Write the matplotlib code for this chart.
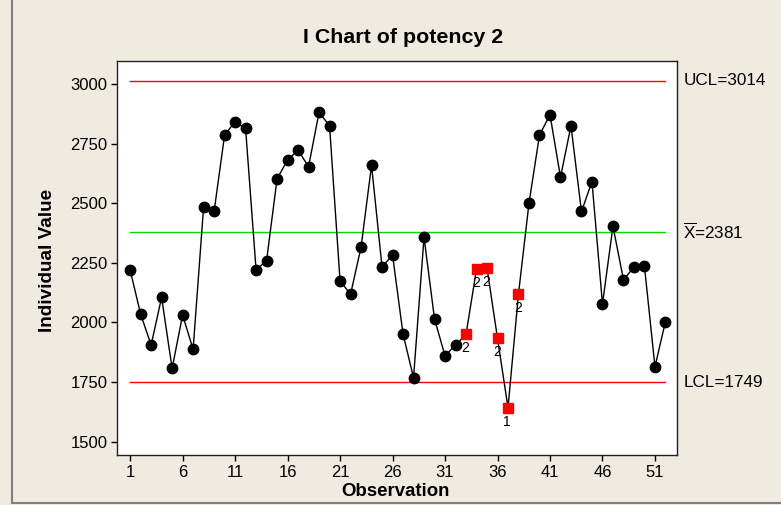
import numpy as np
import matplotlib
matplotlib.use("Agg")
import matplotlib.pyplot as plt
from matplotlib.lines import Line2D

# potency 2 individual observations
potency = [2220, 2035, 1905, 2105, 1807, 2031, 1887, 2483, 2465, 2785,
           2842, 2813, 2220, 2259, 2602, 2681, 2722, 2653, 2881, 2824,
           2174, 2118, 2315, 2659, 2232, 2283, 1951, 1768, 2357, 2014,
           1860, 1905, 1950, 2223, 2228, 1933, 1642, 2120, 2500, 2785,
           2871, 2609, 2824, 2465, 2590, 2077, 2403, 2179, 2231, 2235,
           1814, 2003]
# control limits
ucl = 3014
center = 2381
lcl = 1749
# failed tests: observation -> test number
failed = {33: 2, 34: 2, 35: 2, 36: 2, 37: 1, 38: 2}
xticks = [1, 6, 11, 16, 21, 26, 31, 36, 41, 46, 51]
yticks = [1500, 1750, 2000, 2250, 2500, 2750, 3000]

bg = '#EFEBE1'
font = ['Liberation Sans', 'DejaVu Sans']
W, H = 781, 505

plt.rcParams['mathtext.fontset'] = 'custom'
plt.rcParams['mathtext.rm'] = 'Liberation Sans'

obs = np.arange(1, len(potency) + 1)
vals = np.array(potency)

fig = plt.figure(figsize=(W / 100, H / 100), dpi=100, facecolor=bg)
ax = fig.add_axes([117 / W, 1 - 455 / H, 560 / W, 394 / H])
ax.set_facecolor('white')

# limit lines
for lvl, col in [(ucl, '#FF0000'), (center, '#00DD00'), (lcl, '#FF0000')]:
    ax.plot([obs[0], obs[-1]], [lvl, lvl], color=col, lw=1.0, zorder=1)

ax.plot(obs, vals, color='black', lw=1.0, zorder=2)
ok = np.array([o not in failed for o in obs])
ax.plot(obs[ok], vals[ok], 'o', color='black', ms=7.5, zorder=3)
bad = ~ok
ax.plot(obs[bad], vals[bad], 's', color='#FF0000', ms=6.5, mec='#FF0000', zorder=3)
for o, t in failed.items():
    ax.annotate(str(t), (o, potency[o - 1]), xytext=(-0.5, -5), textcoords='offset points',
                ha='center', va='top', fontsize=10, family=font)

ax.set_xlim(-0.25, 53.1)
ax.set_ylim(1444, 3096)
ax.set_xticks(xticks)
ax.set_yticks(yticks)
ax.tick_params(direction='out', length=4, width=1, labelsize=12, pad=3)
for lab in ax.get_xticklabels() + ax.get_yticklabels():
    lab.set_family(font)
for sp in ax.spines.values():
    sp.set_linewidth(1.0)
    sp.set_color('#222222')

fig.text(395 / W, 1 - 495.7 / H, 'Observation', ha='center', va='baseline',
         fontsize=13.4, fontweight='bold', family=font)
fig.text(48 / W, 1 - 260 / H, 'Individual Value', ha='center', va='center', rotation=90,
         fontsize=13.6, fontweight='bold', family=font)
fig.text(403 / W, 1 - 43.3 / H, 'I Chart of potency 2', ha='center', va='baseline',
         fontsize=15.4, fontweight='bold', family=font)

# limit labels on the right
tr = ax.get_yaxis_transform()
labels = [(ucl, 'UCL=%d' % ucl),
          (center, r'$\overline{\mathrm{X}}$=%d' % center),
          (lcl, 'LCL=%d' % lcl)]
for lvl, txt in labels:
    ax.text(1.011, lvl, txt, transform=tr, ha='left', va='center', fontsize=12.3,
            family=font, clip_on=False)

# outer frame edges
fig.add_artist(Line2D([12 / W, 12 / W], [1 - 503 / H, 1], transform=fig.transFigure,
                      color='#7F7F7F', lw=1.5))
fig.add_artist(Line2D([12 / W, 1], [1 - 503 / H, 1 - 503 / H], transform=fig.transFigure,
                      color='#7F7F7F', lw=1.5))

fig.savefig('out.png', dpi=100, facecolor=bg)
